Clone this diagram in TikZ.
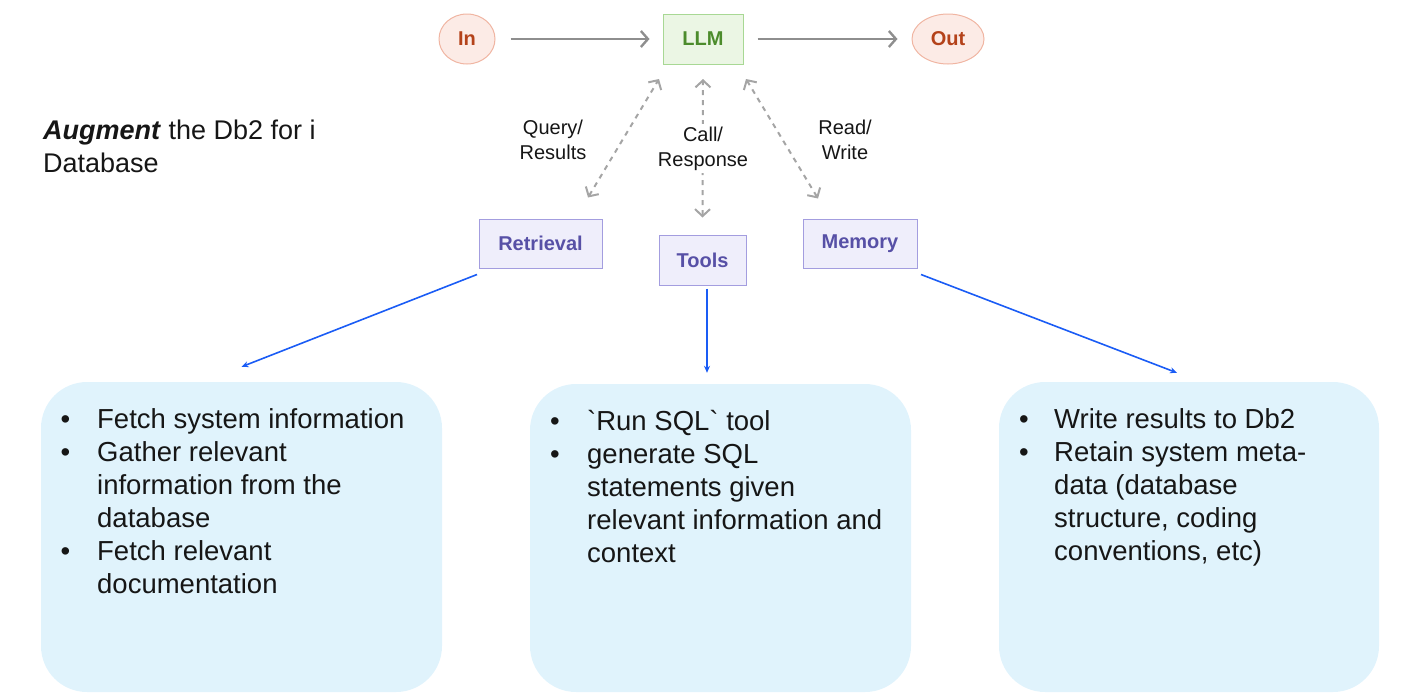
\documentclass[tikz,border=0pt]{standalone}
\usepackage{fontspec}
\setmainfont{Liberation Sans}[Ligatures=TeXOff]
\usetikzlibrary{arrows.meta,shapes.geometric}
\definecolor{termfill}{HTML}{FCEBE6}
\definecolor{termline}{HTML}{F0B5A2}
\definecolor{termtext}{HTML}{B4421A}
\definecolor{llmfill}{HTML}{EBF6E4}
\definecolor{llmline}{HTML}{A8D894}
\definecolor{llmtext}{HTML}{4C8C2C}
\definecolor{agfill}{HTML}{EFEEFB}
\definecolor{agline}{HTML}{A39DDF}
\definecolor{agtext}{HTML}{5750A6}
\definecolor{boxfill}{HTML}{E0F3FC}
\definecolor{linkblue}{HTML}{1A5CF5}
\definecolor{arrgray}{HTML}{8E8E8E}
\definecolor{txt}{HTML}{161616}
\begin{document}
\begin{tikzpicture}[x=1pt,y=-1pt,
  lbl/.style={font=\fontsize{20}{25}\selectfont, text=txt, align=center, inner sep=0pt},
  term/.style={ellipse, draw=termline, line width=1pt, fill=termfill, text=termtext,
    font=\bfseries\fontsize{20}{24}\selectfont, inner sep=0pt, minimum height=50pt},
  llmbox/.style={rectangle, draw=llmline, line width=1pt, fill=llmfill, text=llmtext,
    font=\bfseries\fontsize{20}{24}\selectfont, inner sep=0pt, minimum width=80pt, minimum height=50pt},
  agent/.style={rectangle, draw=agline, line width=1pt, fill=agfill, text=agtext,
    font=\bfseries\fontsize{20}{24}\selectfont, inner sep=0pt, minimum height=49pt},
  bigbox/.style={rectangle, rounded corners=46pt, fill=boxfill, inner sep=0pt},
  bodytext/.style={anchor=north west, inner sep=0pt, text=txt, font=\fontsize{27.5}{33}\selectfont},
  grayarrow/.style={draw=arrgray, line width=2.4pt, -{Straight Barb[length=7pt,width=16pt]}},
  dasharrow/.style={draw=arrgray!80, line width=2pt, dash pattern=on 5pt off 5pt,
    {Straight Barb[length=7pt,width=15pt]}-{Straight Barb[length=7pt,width=15pt]}},
  bluearrow/.style={draw=linkblue, line width=1.6pt, -{Stealth[length=7pt,width=6pt]}}
]
\useasboundingbox (0,0) rectangle (1405,694);

% heading
\node[bodytext, font=\fontsize{27}{33}\selectfont] (head) at (43,116) {\begin{tabular}{@{}l@{}}\textbf{\textit{Augment}} the Db2 for i\\ Database\end{tabular}};

% top row
\node[term, minimum width=56pt] (in) at (467,39) {In};
\node[llmbox] (llm) at (703,39) {LLM};
\node[term, minimum width=72pt] (out) at (948,39) {Out};
\draw[grayarrow, shorten <=15pt, shorten >=13pt] (in) -- (llm);
\draw[grayarrow, shorten <=14pt, shorten >=14pt] (llm) -- (out);

% agents
\node[agent, minimum width=123pt] (ret) at (540.5,243.5) {Retrieval};
\node[agent, minimum width=87pt, minimum height=50pt] (tools) at (702.5,260) {Tools};
\node[agent, minimum width=114pt] (mem) at (860,243.5) {Memory};

% dashed links
\draw[dasharrow] ([xshift=47.5pt,yshift=21pt]ret.north) -- ([xshift=-44pt,yshift=-14.5pt]llm.south);
\draw[dasharrow] ([yshift=17pt]tools.north) -- ([yshift=-14.5pt]llm.south);
\draw[dasharrow] ([xshift=-42pt,yshift=20pt]mem.north) -- ([xshift=43pt,yshift=-14.5pt]llm.south);

\node[lbl] (qr) at (553,139.5) {Query/\\Results};
\node[lbl, fill=white, inner sep=3pt] (cr) at (703,148.5) {Call/\\Response};
\node[lbl] (rw) at (845,139.5) {Read/\\Write};

% bottom boxes
\node[bigbox, minimum width=401pt, minimum height=310pt] (lbox) at (241.5,537) {};
\node[bigbox, minimum width=381pt, minimum height=308pt] (mbox) at (720.5,538) {};
\node[bigbox, minimum width=380pt, minimum height=310pt] (rbox) at (1189,537) {};

% blue connectors
\draw[bluearrow] ([xshift=-63.5pt,yshift=-6pt]ret.south) -- ([yshift=15pt]lbox.north);
\draw[bluearrow] ([xshift=4.5pt,yshift=-3pt]tools.south) -- ([xshift=-13.5pt,yshift=11pt]mbox.north);
\draw[bluearrow] ([xshift=61pt,yshift=-6pt]mem.south) -- ([xshift=-12pt,yshift=9pt]rbox.north);

% box texts
\node[bodytext] (ltext) at (60.5,405) {\begin{tabular}{@{}p{36.5pt}@{}l@{}}
•& Fetch system information\\
•& Gather relevant\\
 & information from the\\
 & database\\
•& Fetch relevant\\
 & documentation
\end{tabular}};
\node[bodytext] (mtext) at (550,407) {\begin{tabular}{@{}p{37pt}@{}l@{}}
•& `Run SQL` tool\\
•& generate SQL\\
 & statements given\\
 & relevant information and\\
 & context
\end{tabular}};
\node[bodytext] (rtext) at (1019,405) {\begin{tabular}{@{}p{35pt}@{}l@{}}
•& Write results to Db2\\
•& Retain system meta-\\
 & data (database\\
 & structure, coding\\
 & conventions, etc)
\end{tabular}};
\end{tikzpicture}
\end{document}
